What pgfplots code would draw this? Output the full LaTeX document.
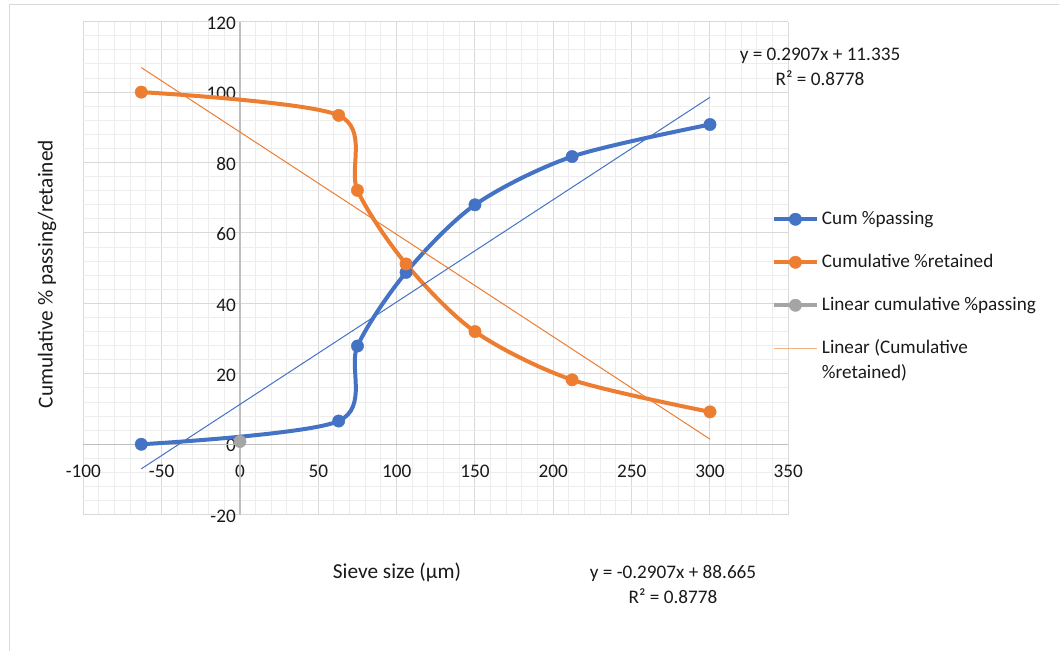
\documentclass[border=0pt]{standalone}
\usepackage{fontspec}
\setmainfont{Carlito}
\usepackage{pgfplots}
\pgfplotsset{compat=1.18}
\definecolor{cblue}{HTML}{4472C4}
\definecolor{corange}{HTML}{ED7D31}
\definecolor{cgray}{HTML}{A5A5A5}
\definecolor{gridmaj}{HTML}{D9D9D9}
\definecolor{gridmin}{HTML}{EDEDED}
\definecolor{axisgray}{HTML}{BFBFBF}
\definecolor{ltorange}{HTML}{F4B183}
\definecolor{txt}{HTML}{1A1A1A}
\newcommand{\tickfont}{\fontsize{19.2}{25}\selectfont}
\newcommand{\titlefont}{\fontsize{21.3}{26}\selectfont}
\begin{document}
\begin{tikzpicture}[x=1pt,y=1pt]
\path[use as bounding box] (0,0) rectangle (1059,651);
\draw[gridmaj, line width=1pt] (9,0) -- (9,646) -- (1059,646);
\begin{axis}[
  at={(83.3pt,136.3pt)}, anchor=south west,
  scale only axis, width=705pt, height=493pt,
  xmin=-100, xmax=350, ymin=-20, ymax=120,
  xtick={-100,-50,...,350}, ytick={-20,0,...,120},
  xticklabels={-100,-50,0,50,100,150,200,250,300,350},
  yticklabels={-20,0,20,40,60,80,100,120},
  minor x tick num=4, minor y tick num=4,
  grid=both,
  major grid style={gridmaj, line width=1pt},
  minor grid style={gridmin, line width=1pt},
  extra x ticks={0}, extra y ticks={0},
  extra x tick labels={\phantom{0}}, extra y tick labels={\phantom{0}},
  extra tick style={major grid style={axisgray, line width=1.2pt}},
  axis line style={draw=none},
  tick style={draw=none},
  xticklabel style={anchor=center, yshift=43pt, inner sep=0pt, font=\tickfont, text=txt},
  yticklabel style={anchor=east, xshift=152.7pt, yshift=-1.5pt, inner sep=0pt, font=\tickfont, text=txt},
  xlabel={Sieve size (µm)},
  xlabel style={at={(axis description cs:0.445,-0.1162)}, anchor=center, font=\titlefont, text=txt},
  ylabel={Cumulative \% passing/retained},
  ylabel style={at={(axis description cs:-0.0515,0.488)}, anchor=center, font=\titlefont, text=txt},
  legend cell align=left,
  legend style={at={(0.9765,0.624)}, anchor=north west, draw=none, fill=none,
    font=\tickfont, text=txt, inner sep=0pt, row sep=19pt,
    nodes={inner sep=3pt, text height=14pt, text depth=4pt}},
  legend image code/.code={\draw[mark repeat=2,mark phase=2,#1] plot coordinates {(0pt,0pt) (21.5pt,0pt) (43pt,0pt)};},
]
% Cum %passing
\addplot[cblue, line width=4pt, smooth, mark=*, mark size=6.2pt, mark options={solid, line width=0.4pt}]
  coordinates {(-63,0) (63,6.6) (75,27.9) (106,48.8) (150,68.0) (212,81.7) (300,90.8)};
\addlegendentry{Cum \%passing}
% Cumulative %retained
\addplot[corange, line width=4pt, smooth, mark=*, mark size=6.2pt, mark options={solid, line width=0.4pt}]
  coordinates {(-63,100) (63,93.4) (75,72.1) (106,51.2) (150,32.0) (212,18.3) (300,9.2)};
\addlegendentry{Cumulative \%retained}
% Linear cumulative %passing
\addplot[cgray, line width=4pt, mark=*, mark size=6.2pt, mark options={solid, line width=0.4pt}]
  coordinates {(0,0.8)};
\addlegendentry{Linear cumulative \%passing}
% trendlines
\addplot[cblue, line width=1pt, forget plot] coordinates {(-63,-6.979) (300,98.545)};
\addplot[corange, line width=1pt, forget plot] coordinates {(-63,106.979) (300,1.455)};
\addlegendimage{ltorange, line width=1.5pt}
\addlegendentry{\begin{tabular}[t]{@{}l@{}}Linear (Cumulative\\\%retained)\end{tabular}}
\end{axis}
\node[font=\tickfont, text=txt, align=center] at (820,584.5) {y = 0.2907x + 11.335\\R² = 0.8778};
\node[font=\tickfont, text=txt, align=center] at (673,66.5) {y = -0.2907x + 88.665\\R² = 0.8778};
\end{tikzpicture}
\end{document}
